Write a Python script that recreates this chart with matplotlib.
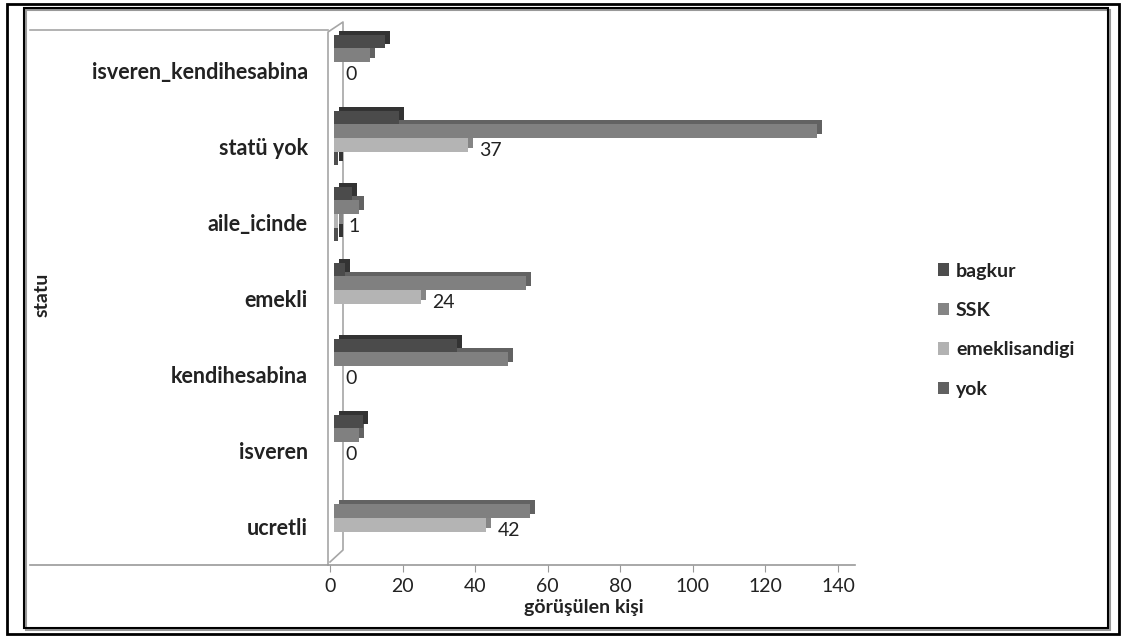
#!/usr/bin/env python

import numpy as np
import matplotlib
matplotlib.use("Agg")
import matplotlib.pyplot as plt
import matplotlib.transforms as mtransforms
from matplotlib.patches import Rectangle, Patch

W, H = 1124, 637

categories = ["ucretli", "isveren", "kendihesabina", "emekli",
              "aile_icinde", "statü yok", "isveren_kendihesabina"]
bagkur = [0, 8, 34, 3, 5, 18, 14]
ssk = [54, 7, 48, 53, 7, 133, 10]
emeklisandigi = [42, 0, 0, 24, 1, 37, 0]
yok = [0, 0, 0, 0, 1, 1, 0]

series_names = ["bagkur", "SSK", "emeklisandigi", "yok"]
front_colors = ["#4b4b4b", "#808080", "#b4b4b4", "#4f4f4f"]
side_colors = ["#333333", "#626262", "#858585", "#343434"]
legend_colors = ["#4d4d4d", "#858585", "#b2b2b2", "#616161"]

plt.rcParams['font.family'] = ['Lato', 'DejaVu Sans']


def px_x(x):
    return x / W


def px_y(y):
    return 1 - y / H


def fig_line(fig, xs, ys, color="#a6a6a6", lw=1.2, ax=None, zorder=0):
    xs = [px_x(x) for x in xs]
    ys = [px_y(y) for y in ys]
    if ax is None:
        fig.add_artist(plt.Line2D(xs, ys, transform=fig.transFigure,
                                  color=color, lw=lw))
    else:
        ax.plot(xs, ys, transform=fig.transFigure, color=color, lw=lw,
                clip_on=False, zorder=zorder)


def main():
    fig = plt.figure(figsize=(W / 100, H / 100), dpi=100)
    ax = fig.add_axes([px_x(330), px_y(565), (838 - 330) / W, (565 - 30) / H])

    y = np.arange(len(categories))
    h = 0.18
    offsets = [0.27, 0.09, -0.09, -0.27]
    data = [bagkur, ssk, emeklisandigi, yok]

    # 3d look: darker copy shifted up/right behind the front face
    front_tr = ax.transData + mtransforms.ScaledTranslation(4 / 100, 0, fig.dpi_scale_trans)
    side_tr = ax.transData + mtransforms.ScaledTranslation(9 / 100, 4 / 100, fig.dpi_scale_trans)

    for vals, off, fc, sc in zip(data, offsets, front_colors, side_colors):
        ax.barh(y + off, vals, height=h, color=sc, transform=side_tr,
                zorder=2, linewidth=0)
        ax.barh(y + off, vals, height=h, color=fc, transform=front_tr,
                zorder=3, linewidth=0)

    for yi, v in zip(y, emeklisandigi):
        ax.annotate(str(v), (v, yi - 0.09), xytext=(15, -6),
                    textcoords="offset pixels", fontsize=14,
                    color="#222222", va="center", ha="left", zorder=5)

    ax.set_xlim(0, 140)
    ax.set_ylim(-0.62, 6.42)
    ax.set_xticks(np.arange(0, 141, 20))
    ax.set_yticks(y)
    ax.set_yticklabels(categories, fontsize=15.5, fontweight="bold",
                       color="#222222")
    ax.tick_params(axis="y", length=0, pad=16)
    ax.tick_params(axis="x", length=5, color="#999999", labelsize=14,
                   labelcolor="#222222", pad=4)
    label_shift = mtransforms.ScaledTranslation(0, -9 / 100, fig.dpi_scale_trans)
    for lab in ax.get_yticklabels():
        lab.set_transform(lab.get_transform() + label_shift)
    for s in ax.spines.values():
        s.set_visible(False)
    ax.patch.set_visible(False)
    ax.set_xlabel("görüşülen kişi", fontsize=14, fontweight="bold",
                  color="#222222", labelpad=3)

    fig.text(px_x(42), px_y(295), "statu", rotation=90, fontsize=14,
             fontweight="bold", color="#222222", ha="center", va="center")

    # frame / floor / side wall lines
    fig_line(fig, [30, 855], [565, 565], color="#999999", lw=1.2)
    fig_line(fig, [30, 328], [30, 30], color="#a6a6a6", lw=1.2)
    fig_line(fig, [328, 328, 343, 343, 330], [565, 32, 22, 550, 562],
             color="#a6a6a6", lw=1.2, ax=ax, zorder=1)

    fig.add_artist(Rectangle((px_x(26), px_y(630)), (1110 - 26) / W, (630 - 10) / H,
                             transform=fig.transFigure, fill=False,
                             edgecolor="#999999", lw=1.5))
    fig.add_artist(Rectangle((px_x(24), px_y(628)), (1108 - 24) / W, (628 - 8) / H,
                             transform=fig.transFigure, fill=False,
                             edgecolor="black", lw=1.5))
    fig.add_artist(Rectangle((px_x(7), px_y(634)), (1119 - 7) / W, (634 - 4) / H,
                             transform=fig.transFigure, fill=False,
                             edgecolor="black", lw=2))

    handles = [Patch(facecolor=c, edgecolor="none") for c in legend_colors]
    fig.legend(handles, series_names, loc="upper left",
               bbox_to_anchor=(px_x(920), px_y(245)), frameon=False,
               prop={"weight": "bold", "size": 14}, handlelength=0.6,
               handleheight=0.6, handletextpad=0.35, labelspacing=1.15,
               labelcolor="#222222")

    fig.savefig("out.png", dpi=100)


if __name__ == "__main__":
    main()
